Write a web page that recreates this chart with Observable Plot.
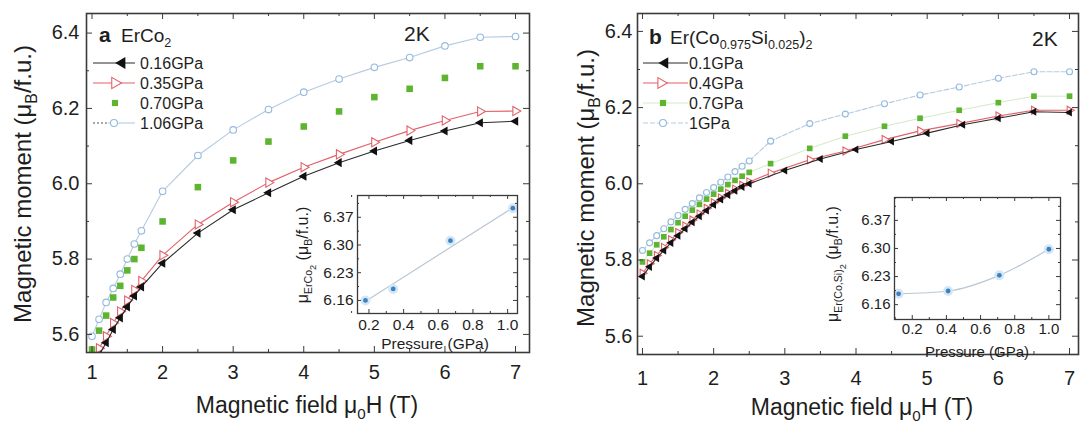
<!DOCTYPE html>
<html><head><meta charset="utf-8">
<script src="https://cdn.jsdelivr.net/npm/d3@7"></script>
<script src="https://cdn.jsdelivr.net/npm/@observablehq/plot@0.6"></script>
<style>
html,body{margin:0;padding:0;background:#fff;}
#wrap{position:relative;width:1080px;height:425px;overflow:hidden;background:#fff;}
#wrap svg{position:absolute;}
</style></head><body><div id="wrap"></div>
<script>
const FONT = '"Liberation Sans", Arial, Helvetica, sans-serif';

// ---------- Panel a: ErCo2 ----------
const fieldA = [1.0,1.1,1.2,1.3,1.4,1.5,1.6,1.7,2.0,2.5,3.0,3.5,4.0,4.5,5.0,5.5,6.0,6.5,7.0];
const momentA_016 = [5.51,5.545,5.578,5.613,5.644,5.673,5.702,5.726,5.789,5.869,5.931,5.976,6.020,6.056,6.087,6.115,6.140,6.162,6.166];
const momentA_035 = [5.53,5.563,5.595,5.630,5.661,5.690,5.718,5.742,5.810,5.892,5.951,6.003,6.044,6.078,6.110,6.141,6.168,6.192,6.193];
const momentA_070 = [5.56,5.610,5.650,5.698,5.729,5.770,5.800,5.830,5.900,5.991,6.062,6.112,6.152,6.192,6.230,6.252,6.281,6.312,6.312];
const momentA_106 = [5.595,5.640,5.685,5.722,5.760,5.800,5.840,5.875,5.980,6.075,6.143,6.197,6.243,6.278,6.309,6.335,6.366,6.389,6.391];
const labelsA = ["0.16GPa","0.35GPa","0.70GPa","1.06GPa"];

// inset a
const insetA_pressure = [0.18,0.34,0.67,1.03];
const insetA_moment = [6.160,6.189,6.311,6.393];
const insetA_fitP = [0.17,1.04];
const insetA_fitM = [6.155,6.397];

// ---------- Panel b: Er(Co0.975Si0.025)2 ----------
const fieldB_01 = [1.0,1.1,1.2,1.3,1.4,1.5,1.6,1.7,1.8,1.9,2.0,2.1,2.2,2.3,2.4,2.5,3.0,3.5,4.0,4.5,5.0,5.5,6.0,6.5,7.0];
const fieldB_rest = [1.0,1.1,1.2,1.3,1.4,1.5,1.6,1.7,1.8,1.9,2.0,2.1,2.2,2.3,2.4,2.5,2.8,3.35,3.85,4.4,4.9,5.45,6.0,6.5,7.0];
const momentB_01 = [5.757,5.782,5.805,5.825,5.845,5.864,5.882,5.899,5.915,5.930,5.945,5.959,5.971,5.982,5.992,6.000,6.035,6.065,6.090,6.111,6.133,6.155,6.172,6.189,6.187];
const momentB_04 = [5.765,5.790,5.812,5.833,5.853,5.872,5.889,5.905,5.921,5.936,5.950,5.963,5.975,5.986,5.996,6.005,6.028,6.063,6.086,6.116,6.139,6.158,6.178,6.193,6.193];
const momentB_07 = [5.795,5.818,5.840,5.861,5.880,5.898,5.915,5.931,5.946,5.960,5.973,5.986,5.998,6.009,6.020,6.030,6.053,6.093,6.125,6.151,6.172,6.193,6.213,6.230,6.230];
const momentB_10 = [5.825,5.845,5.864,5.882,5.900,5.917,5.933,5.948,5.963,5.977,5.990,6.004,6.018,6.032,6.046,6.060,6.112,6.158,6.183,6.210,6.233,6.254,6.277,6.294,6.294];
const labelsB = ["0.1GPa","0.4GPa","0.7GPa","1GPa"];

// inset b
const insetB_pressure = [0.12,0.41,0.71,1.00];
const insetB_moment = [6.187,6.194,6.233,6.298];

// ---------- ticks ----------
const xTicks = [1,2,3,4,5,6,7];
const xMinor = [1.5,2.5,3.5,4.5,5.5,6.5];
const yTicks = [5.6,5.8,6.0,6.2,6.4];
const yMinor = [5.7,5.9,6.1,6.3];
const insetXTicks = [0.2,0.4,0.6,0.8,1.0];
const insetXMinor = [0.1,0.3,0.5,0.7,0.9];
const insetYTicks = [6.16,6.23,6.30,6.37];
const insetYMinor = [6.195,6.265,6.335,6.405];

const C = {black:"#111", blackLine:"#2b2b2b", red:"#e3616a", green:"#5db42f", greenLine:"#d3e9c6",
           blue:"#93badf", blueLine:"#b4cbe2", frame:"#3a3a3a", text:"#1e1e1e", insetDot:"#3f80bf", insetHalo:"#d4e7f7", insetLine:"#b9c7d6"};

const wrap = document.getElementById("wrap");
const zip = (xs, ys) => xs.map((x, i) => ({x, y: ys[i]}));

function frameTicks(fw, fh, xMaj, xMin, yMaj, yMin, maj, mn) {
  const s = {stroke: C.frame, strokeWidth: 1};
  return [
    Plot.tickY(yMaj, {y: d => d, insetRight: fw - maj, ...s}),
    Plot.tickY(yMaj, {y: d => d, insetLeft: fw - maj, ...s}),
    Plot.tickY(yMin, {y: d => d, insetRight: fw - mn, ...s}),
    Plot.tickY(yMin, {y: d => d, insetLeft: fw - mn, ...s}),
    Plot.tickX(xMaj, {x: d => d, insetTop: fh - maj, ...s}),
    Plot.tickX(xMaj, {x: d => d, insetBottom: fh - maj, ...s}),
    Plot.tickX(xMin, {x: d => d, insetTop: fh - mn, ...s}),
    Plot.tickX(xMin, {x: d => d, insetBottom: fh - mn, ...s})
  ];
}

function place(svg, left, top) {
  svg.style.left = left + "px";
  svg.style.top = top + "px";
  wrap.appendChild(svg);
  return svg;
}

function rich(svg, x, y, parts, {size = 16, anchor = "start", rotate = 0, weight = "normal", fill = C.text} = {}) {
  const t = d3.select(svg).append("text")
    .attr("x", x).attr("y", y)
    .attr("text-anchor", anchor)
    .attr("font-family", FONT).attr("font-weight", weight)
    .attr("fill", fill).attr("font-size", size);
  if (rotate) t.attr("transform", `rotate(${rotate},${x},${y})`);
  let prev = 0;
  for (const p of parts) {
    const [str, lvl = 0, w = null] = Array.isArray(p) ? p : [p, 0];
    const off = lvl * size * 0.25;
    t.append("tspan").attr("dy", off - prev)
      .attr("font-size", lvl === 0 ? size : lvl === 1 ? size * 0.66 : size * 0.58)
      .attr("font-weight", w).text(str);
    prev = off;
  }
}

function sym(svg, type, x, y, size, rot, fill, stroke) {
  d3.select(svg).append("path")
    .attr("d", d3.symbol().type(type).size(size)())
    .attr("transform", `translate(${x},${y}) rotate(${rot})`)
    .attr("fill", fill).attr("stroke", stroke || "none").attr("stroke-width", 1.1);
}
function seg(svg, x1, x2, y, stroke, dash) {
  d3.select(svg).append("line").attr("x1", x1).attr("x2", x2).attr("y1", y).attr("y2", y)
    .attr("stroke", stroke).attr("stroke-width", 1.1).attr("stroke-dasharray", dash || null);
}

function seriesMarks(d016, d035, d070, d106, o) {
  return [
    Plot.line(d106, {x: "x", y: "y", stroke: C.blueLine, strokeWidth: 1.1, strokeDasharray: o.blueDash, clip: true}),
    Plot.dot(d106, {x: "x", y: "y", symbol: "circle", r: o.rC, fill: "white", stroke: C.blue, strokeWidth: 1.1, clip: true}),
    ...(o.greenLine ? [Plot.line(d070, {x: "x", y: "y", stroke: C.greenLine, strokeWidth: 1, clip: true})] : []),
    Plot.dot(d070, {x: "x", y: "y", symbol: "square", r: o.rS, fill: C.green, clip: true}),
    Plot.line(d035, {x: "x", y: "y", stroke: C.red, strokeWidth: 1.1, clip: true}),
    Plot.dot(d035, {x: "x", y: "y", symbol: "triangle", rotate: 90, r: o.rT, fill: "white", stroke: C.red, strokeWidth: 1.1, clip: true}),
    Plot.line(d016, {x: "x", y: "y", stroke: C.blackLine, strokeWidth: 1.1, clip: true}),
    Plot.dot(d016, {x: "x", y: "y", symbol: "triangle", rotate: -90, r: o.rT, fill: C.black, clip: true})
  ];
}

function mainPanel(o) {
  const fw = o.width - o.mL - o.mR, fh = o.height - o.mT - o.mB;
  const svg = Plot.plot({
    width: o.width, height: o.height,
    marginLeft: o.mL, marginRight: o.mR, marginTop: o.mT, marginBottom: o.mB,
    x: {domain: o.xDomain}, y: {domain: o.yDomain},
    style: {fontFamily: FONT, fontSize: "20px", color: C.text, background: "transparent", overflow: "visible"},
    marks: [
      ...o.marks,
      ...frameTicks(fw, fh, xTicks, xMinor, yTicks, yMinor, 6, 3),
      Plot.frame({stroke: C.frame, strokeWidth: 1.6}),
      Plot.axisY(yTicks, {tickSize: 0, tickPadding: o.yPad, tickFormat: d3.format(".1f"), fontSize: 20, label: null}),
      Plot.axisX(xTicks, {tickSize: 0, tickPadding: o.xPad, fontSize: 20, label: null})
    ]
  });
  return place(svg, o.left, 0);
}

function inset(o) {
  const fw = o.width - o.mL - o.mR, fh = o.height - o.mT - o.mB;
  const svg = Plot.plot({
    width: o.width, height: o.height,
    marginLeft: o.mL, marginRight: o.mR, marginTop: o.mT, marginBottom: o.mB,
    x: {domain: o.xDomain}, y: {domain: o.yDomain},
    style: {fontFamily: FONT, fontSize: o.fs + "px", color: C.text, background: "transparent", overflow: "visible"},
    marks: [
      Plot.frame({fill: "white"}),
      ...o.marks,
      ...frameTicks(fw, fh, insetXTicks, insetXMinor, insetYTicks, insetYMinor, 4, 2),
      Plot.frame({stroke: C.frame, strokeWidth: 1.3}),
      Plot.axisY(insetYTicks, {tickSize: 0, tickPadding: 4, tickFormat: d3.format(".2f"), fontSize: o.fs, label: null}),
      Plot.axisX(insetXTicks, {tickSize: 0, tickPadding: o.xPad, tickFormat: d3.format(".1f"), fontSize: o.fs, label: null})
    ]
  });
  return place(svg, o.left, o.top);
}

// ---------- Panel a ----------
const svgA = mainPanel({
  left: 0, width: 540, height: 425, mL: 86, mR: 11, mT: 13, mB: 73,
  xDomain: [0.922, 7.198], yDomain: [5.552, 6.452], yPad: 7, xPad: 12,
  marks: seriesMarks(zip(fieldA, momentA_016), zip(fieldA, momentA_035), zip(fieldA, momentA_070), zip(fieldA, momentA_106),
                     {rT: 3.4, rS: 3.7, rC: 3.3, greenLine: false, blueDash: null})
});
rich(svgA, 307, 413, ["Magnetic field μ", ["0", 1], "H (T)"], {size: 23, anchor: "middle"});
rich(svgA, 31, 184, ["Magnetic moment (μ", ["B", 1], "/f.u.)"], {size: 24, anchor: "middle", rotate: -90});
rich(svgA, 99, 42, [["a", 0, "bold"]], {size: 21});
rich(svgA, 121, 42, ["ErCo", ["2", 1]], {size: 19});
rich(svgA, 404, 41, ["2K"], {size: 21});
// legend a
seg(svgA, 93, 135, 63, C.blackLine); sym(svgA, d3.symbolTriangle, 122, 63, 60, -90, C.black);
seg(svgA, 93, 135, 83, C.red); sym(svgA, d3.symbolTriangle, 115, 83, 55, 90, "white", C.red);
sym(svgA, d3.symbolSquare, 115, 103, 38, 0, C.green);
seg(svgA, 93, 108, 123, "#555", "2,2"); seg(svgA, 108, 135, 123, C.blueLine); sym(svgA, d3.symbolCircle, 114, 123, 38, 0, "white", C.blue);
labelsA.forEach((l, i) => rich(svgA, 140, 63 + i * 20 + 6, [l], {size: 16}));

// inset a
const svgIA = inset({
  left: 280, top: 190, width: 243, height: 171, mL: 77, mR: 6, mT: 5, mB: 48, fs: 15.5,
  xDomain: [0.134, 1.057], yDomain: [6.127, 6.425], xPad: 5,
  marks: [
    Plot.line(zip(insetA_fitP, insetA_fitM), {x: "x", y: "y", stroke: C.insetLine, strokeWidth: 1.2}),
    Plot.dot(zip(insetA_pressure, insetA_moment), {x: "x", y: "y", r: 5, fill: C.insetHalo}),
    Plot.dot(zip(insetA_pressure, insetA_moment), {x: "x", y: "y", r: 2.4, fill: C.insetDot})
  ]
});
rich(svgIA, 155, 159, ["Pressure (GPa)"], {size: 15.5, anchor: "middle"});
rich(svgIA, 28, 65, ["μ", ["ErCo", 1], ["2", 2], " (μ", ["B", 1], "/f.u.)"], {size: 16, anchor: "middle", rotate: -90});

// ---------- Panel b ----------
const svgB = mainPanel({
  left: 540, width: 540, height: 425, mL: 97, mR: 2, mT: 13, mB: 71,
  xDomain: [0.930, 7.126], yDomain: [5.552, 6.447], yPad: 5, xPad: 16,
  marks: seriesMarks(zip(fieldB_01, momentB_01), zip(fieldB_rest, momentB_04), zip(fieldB_rest, momentB_07), zip(fieldB_rest, momentB_10),
                     {rT: 3.0, rS: 3.2, rC: 3.0, greenLine: true, blueDash: "5,2"})
});
rich(svgB, 322, 415, ["Magnetic field μ", ["0", 1], "H (T)"], {size: 23, anchor: "middle"});
rich(svgB, 54, 188, ["Magnetic moment (μ", ["B", 1], "/f.u.)"], {size: 24, anchor: "middle", rotate: -90});
rich(svgB, 109, 44, [["b", 0, "bold"]], {size: 21});
rich(svgB, 130, 44, ["Er(Co", ["0.975", 1], "Si", ["0.025", 1], ")", ["2", 1]], {size: 19});
rich(svgB, 492, 46, ["2K"], {size: 21});
// legend b
seg(svgB, 103, 148, 63, C.blackLine); sym(svgB, d3.symbolTriangle, 125, 63, 55, -90, C.black);
seg(svgB, 103, 148, 83, C.red); sym(svgB, d3.symbolTriangle, 121, 83, 50, 90, "white", C.red);
seg(svgB, 103, 148, 103, C.greenLine); sym(svgB, d3.symbolSquare, 123, 103, 38, 0, C.green);
seg(svgB, 103, 148, 123, C.blueLine, "5,2"); sym(svgB, d3.symbolCircle, 123, 123, 38, 0, "white", C.blue);
labelsB.forEach((l, i) => rich(svgB, 149, 63 + i * 20 + 6, [l], {size: 16}));

// inset b
const svgIB = inset({
  left: 810, top: 192, width: 256, height: 175, mL: 84, mR: 6, mT: 5, mB: 48, fs: 15,
  xDomain: [0.096, 1.068], yDomain: [6.123, 6.427], xPad: 4,
  marks: [
    Plot.line(zip(insetB_pressure, insetB_moment), {x: "x", y: "y", stroke: C.insetLine, strokeWidth: 1.2, curve: "monotone-x"}),
    Plot.dot(zip(insetB_pressure, insetB_moment), {x: "x", y: "y", r: 5, fill: C.insetHalo}),
    Plot.dot(zip(insetB_pressure, insetB_moment), {x: "x", y: "y", r: 2.4, fill: C.insetDot})
  ]
});
rich(svgIB, 167, 165, ["Pressure (GPa)"], {size: 15, anchor: "middle"});
rich(svgIB, 28, 72, ["μ", ["Er(Co,Si)", 1], ["2", 2], " (μ", ["B", 1], "/f.u.)"], {size: 16, anchor: "middle", rotate: -90});
</script></body></html>
